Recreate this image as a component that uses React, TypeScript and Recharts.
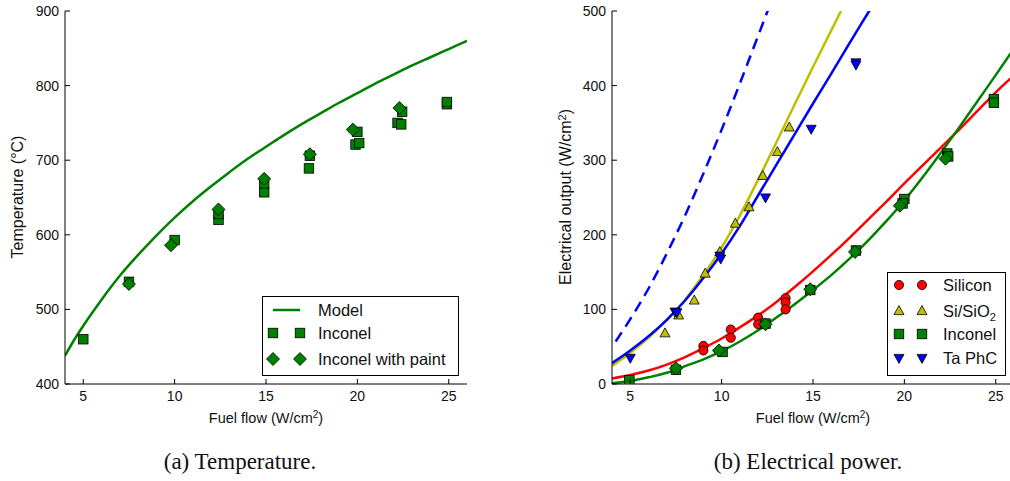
import React from 'react';
import { ComposedChart, Line, Scatter, XAxis, YAxis } from 'recharts';

// ---------- shared axis ticks ----------
const FLOW_TICKS = [5, 10, 15, 20, 25];
const TEMP_TICKS = [400, 500, 600, 700, 800, 900];
const POWER_TICKS = [0, 100, 200, 300, 400, 500];

// ---------- (a) Temperature ----------
const modelFlow = [4, 4.5, 5, 6, 7, 8, 9, 10, 11, 12, 13, 14, 15, 16, 17, 18, 19, 20, 21, 22, 23, 24, 25, 26];
const modelTemp = [438, 459, 478, 513, 545, 573, 599, 623, 645, 665, 684, 702, 718, 734, 749, 763, 777, 790, 803, 815, 827, 838, 849, 860];

const inconelFlowA = [5.0, 7.5, 10.0, 12.4, 12.4, 14.9, 14.9, 17.35, 17.4, 19.9, 20.1, 20.0, 22.2, 22.4, 22.45, 24.9, 24.9];
const inconelTempA = [460, 537, 593, 620, 628, 657, 669, 689, 706, 721, 723, 738, 750, 748, 765, 775, 778];

const paintFlowA = [7.5, 9.8, 12.4, 14.9, 17.4, 19.75, 22.3];
const paintTempA = [534, 586, 634, 675, 708, 741, 770];

// ---------- (b) Electrical power ----------
const fitFlow = [4, 5, 6, 7, 8, 9, 10, 11, 12, 13, 14, 15, 16, 17, 18, 19, 20, 21, 22, 23, 24, 25, 26];
const siliconFit = [7.5, 12, 18, 26, 36, 48, 61, 76, 92, 110, 130, 151, 173, 196, 220, 244, 269, 293, 317, 341, 366, 391, 414];
const inconelFit = [1, 4, 9, 15, 24, 33, 44, 57, 72, 89, 107, 126, 146, 168, 192, 218, 246, 277, 310, 344, 379, 414, 450];

const sio2FitFlow = [4, 5, 6, 7, 8, 9, 10, 11, 12, 13, 14, 15, 16, 17];
const sio2Fit = [24, 42, 62, 86, 113, 146, 183, 226, 274, 324, 375, 425, 474, 523];

const taFitFlow = [4, 5, 6, 7, 8, 9, 10, 11, 12, 13, 14, 15, 16, 17, 18, 19];
const taFit = [28, 45, 64, 86, 112, 142, 175, 212, 253, 294, 335, 376, 416, 457, 497, 537];

const taIdealFlow = [4.2, 5, 6, 7, 8, 9, 10, 11, 12, 13];
const taIdeal = [57, 87, 128, 175, 226, 282, 341, 403, 467, 531];

const siliconFlow = [9.0, 9.0, 10.5, 10.5, 12.0, 12.0, 13.5, 13.5, 13.5];
const siliconPower = [51, 45, 73, 62, 89, 80, 115, 109, 100];

const sio2Flow = [6.9, 7.65, 8.5, 9.1, 9.9, 10.75, 11.5, 12.25, 13.05, 13.7];
const sio2Power = [68, 92, 112, 148, 177, 215, 237, 279, 311, 344];

const inconelFlowB = [4.95, 7.5, 10.05, 12.4, 14.85, 17.35, 20.0, 19.9, 22.35, 22.4, 24.9, 24.9];
const inconelPowerB = [5, 19, 43, 81, 126, 179, 248, 242, 309, 305, 382, 377];

const paintFlowB = [7.5, 9.85, 12.4, 14.85, 17.3, 19.75, 22.25];
const paintPowerB = [21, 45, 80, 127, 177, 239, 302];

const taFlow = [5.0, 7.45, 7.55, 9.9, 9.95, 12.4, 14.9, 17.35, 17.35];
const taPower = [35, 97, 96, 172, 168, 250, 342, 431, 428];

// ---------- styling ----------
const GREEN = '#008000';
const RED = '#ff0000';
const YELLOW = '#bfbf00';
const BLUE = '#0000ff';
const SANS = '"Liberation Sans", Arial, Helvetica, sans-serif';
const SERIF = '"Liberation Serif", "DejaVu Serif", serif';
const TICK_FONT = 14;
const TICK_LEN = 5;

const pts = (xs: number[], ys: number[]) => xs.map((x, i) => ({ x, y: ys[i] }));

// ---------- markers ----------
type MarkerKind = 'square' | 'diamond' | 'circle' | 'up' | 'down';

function Marker({ kind, cx, cy, fill }: { kind: MarkerKind; cx: number; cy: number; fill: string }) {
  const stroke = '#000';
  const sw = 0.8;
  if (kind === 'square') {
    const s = 9.5;
    return <rect x={cx - s / 2} y={cy - s / 2} width={s} height={s} fill={fill} stroke={stroke} strokeWidth={sw} />;
  }
  if (kind === 'diamond') {
    const r = 6.5;
    return (
      <polygon
        points={`${cx},${cy - r} ${cx + r},${cy} ${cx},${cy + r} ${cx - r},${cy}`}
        fill={fill}
        stroke={stroke}
        strokeWidth={sw}
      />
    );
  }
  if (kind === 'circle') {
    return <circle cx={cx} cy={cy} r={4.6} fill={fill} stroke={stroke} strokeWidth={sw} />;
  }
  const w = 10;
  const h = 9;
  if (kind === 'up') {
    return (
      <polygon
        points={`${cx},${cy - h * 0.6} ${cx + w / 2},${cy + h * 0.4} ${cx - w / 2},${cy + h * 0.4}`}
        fill={fill}
        stroke={stroke}
        strokeWidth={sw}
      />
    );
  }
  return (
    <polygon
      points={`${cx},${cy + h * 0.6} ${cx + w / 2},${cy - h * 0.4} ${cx - w / 2},${cy - h * 0.4}`}
      fill={fill}
      stroke={stroke}
      strokeWidth={sw}
    />
  );
}

const shapeOf = (kind: MarkerKind, fill: string) => (p: any) => <Marker kind={kind} cx={p.cx} cy={p.cy} fill={fill} />;

// ---------- axis ticks (inward, matplotlib style) ----------
const BottomTick = (p: any) => (
  <g>
    <line x1={p.x} x2={p.x} y1={p.y} y2={p.y - TICK_LEN} stroke="#000" strokeWidth={1} />
    <text x={p.x} y={p.y + 17} textAnchor="middle" fontFamily={SANS} fontSize={TICK_FONT} fill="#111">
      {p.payload.value}
    </text>
  </g>
);
const TopTick = (p: any) => (
  <line x1={p.x} x2={p.x} y1={p.y} y2={p.y + TICK_LEN} stroke="#000" strokeWidth={1} />
);
const LeftTick = (p: any) => (
  <g>
    <line x1={p.x} x2={p.x + TICK_LEN} y1={p.y} y2={p.y} stroke="#000" strokeWidth={1} />
    <text x={p.x - 6} y={p.y + 5} textAnchor="end" fontFamily={SANS} fontSize={TICK_FONT} fill="#111">
      {p.payload.value}
    </text>
  </g>
);
const RightTick = (p: any) => (
  <line x1={p.x} x2={p.x - TICK_LEN} y1={p.y} y2={p.y} stroke="#000" strokeWidth={1} />
);

const CHART_W = 480;
const CHART_H = 430;
const MARGIN = { top: 11, right: 13, bottom: 0, left: 0 };

// Bottom/left axes carry labels; top/right axes only close the frame with inward ticks.
function axes(yDomain: [number, number], yTicks: number[]) {
  return [
    <XAxis
      key="xb"
      type="number"
      dataKey="x"
      domain={[4, 26]}
      ticks={FLOW_TICKS}
      interval={0}
      allowDataOverflow
      height={46}
      tickSize={0}
      tickMargin={0}
      tickLine={false}
      axisLine={{ stroke: '#000', strokeWidth: 1 }}
      tick={BottomTick}
    />,
    <XAxis
      key="xt"
      xAxisId="top"
      orientation="top"
      type="number"
      dataKey="x"
      domain={[4, 26]}
      ticks={FLOW_TICKS}
      interval={0}
      allowDataOverflow
      height={0}
      tickSize={0}
      tickMargin={0}
      tickLine={false}
      axisLine={{ stroke: '#000', strokeWidth: 1 }}
      tick={TopTick}
    />,
    <YAxis
      key="yl"
      type="number"
      dataKey="y"
      domain={yDomain}
      ticks={yTicks}
      interval={0}
      allowDataOverflow
      width={65}
      tickSize={0}
      tickMargin={0}
      tickLine={false}
      axisLine={{ stroke: '#000', strokeWidth: 1 }}
      tick={LeftTick}
    />,
    <YAxis
      key="yr"
      yAxisId="right"
      orientation="right"
      type="number"
      dataKey="y"
      domain={yDomain}
      ticks={yTicks}
      interval={0}
      allowDataOverflow
      width={0}
      tickSize={0}
      tickMargin={0}
      tickLine={false}
      axisLine={{ stroke: '#000', strokeWidth: 1 }}
      tick={RightTick}
    />,
  ];
}

function TemperatureChart() {
  return (
    <ComposedChart width={CHART_W} height={CHART_H} margin={MARGIN}>
      {axes([400, 900], TEMP_TICKS)}
      <Line
        data={pts(modelFlow, modelTemp)}
        dataKey="y"
        type="monotone"
        stroke={GREEN}
        strokeWidth={2.5}
        dot={false}
        activeDot={false}
        isAnimationActive={false}
      />
      <Scatter data={pts(inconelFlowA, inconelTempA)} shape={shapeOf('square', GREEN)} isAnimationActive={false} />
      <Scatter data={pts(paintFlowA, paintTempA)} shape={shapeOf('diamond', GREEN)} isAnimationActive={false} />
    </ComposedChart>
  );
}

function PowerChart() {
  const fit = (xs: number[], ys: number[], color: string, dash?: string) => (
    <Line
      data={pts(xs, ys)}
      dataKey="y"
      type="monotone"
      stroke={color}
      strokeWidth={2.5}
      strokeDasharray={dash}
      dot={false}
      activeDot={false}
      isAnimationActive={false}
    />
  );
  return (
    <ComposedChart width={CHART_W} height={CHART_H} margin={MARGIN}>
      {axes([0, 500], POWER_TICKS)}
      {fit(taIdealFlow, taIdeal, BLUE, '11 7')}
      {fit(sio2FitFlow, sio2Fit, YELLOW)}
      {fit(taFitFlow, taFit, BLUE)}
      {fit(fitFlow, siliconFit, RED)}
      {fit(fitFlow, inconelFit, GREEN)}
      <Scatter data={pts(siliconFlow, siliconPower)} shape={shapeOf('circle', RED)} isAnimationActive={false} />
      <Scatter data={pts(sio2Flow, sio2Power)} shape={shapeOf('up', YELLOW)} isAnimationActive={false} />
      <Scatter data={pts(inconelFlowB, inconelPowerB)} shape={shapeOf('square', GREEN)} isAnimationActive={false} />
      <Scatter data={pts(paintFlowB, paintPowerB)} shape={shapeOf('diamond', GREEN)} isAnimationActive={false} />
      <Scatter data={pts(taFlow, taPower)} shape={shapeOf('down', BLUE)} isAnimationActive={false} />
    </ComposedChart>
  );
}

// ---------- legends, axis titles and captions ----------
type LegendRow = { label: React.ReactNode; kind: MarkerKind | 'line'; color: string; y: number };

function LegendBox({ x, y, w, h, rows, mx1, mx2, tx }: { x: number; y: number; w: number; h: number; rows: LegendRow[]; mx1: number; mx2: number; tx: number }) {
  return (
    <g>
      <rect x={x + 0.5} y={y + 0.5} width={w} height={h} fill="#fff" stroke="#000" strokeWidth={1} />
      {rows.map((r, i) => (
        <g key={i}>
          {r.kind === 'line' ? (
            <line x1={x + mx1} x2={x + mx2} y1={y + r.y} y2={y + r.y} stroke={r.color} strokeWidth={2.5} />
          ) : (
            <>
              <Marker kind={r.kind} cx={x + mx1} cy={y + r.y} fill={r.color} />
              <Marker kind={r.kind} cx={x + mx2} cy={y + r.y} fill={r.color} />
            </>
          )}
          <text x={x + tx} y={y + r.y + 6} fontFamily={SANS} fontSize={16.5} fill="#111">
            {r.label}
          </text>
        </g>
      ))}
    </g>
  );
}

const flowTitle = (
  <>
    Fuel flow (W/cm<tspan dy={-5} fontSize={10}>2</tspan>
    <tspan dy={5}>)</tspan>
  </>
);

function Overlay() {
  return (
    <svg width={1010} height={481} style={{ position: 'absolute', left: 0, top: 0 }}>
      <LegendBox
        x={262}
        y={296}
        w={196}
        h={79}
        mx1={11}
        mx2={38}
        tx={56}
        rows={[
          { label: 'Model', kind: 'line', color: GREEN, y: 14 },
          { label: 'Inconel', kind: 'square', color: GREEN, y: 37 },
          { label: 'Inconel with paint', kind: 'diamond', color: GREEN, y: 63 },
        ]}
      />
      <LegendBox
        x={887}
        y={272}
        w={118}
        h={103}
        mx1={12}
        mx2={35}
        tx={56}
        rows={[
          { label: 'Silicon', kind: 'circle', color: RED, y: 13 },
          {
            label: (
              <>
                Si/SiO<tspan dy={4} fontSize={11}>2</tspan>
              </>
            ),
            kind: 'up',
            color: YELLOW,
            y: 39,
          },
          { label: 'Inconel', kind: 'square', color: GREEN, y: 62 },
          { label: 'Ta PhC', kind: 'down', color: BLUE, y: 86 },
        ]}
      />

      <text x={266} y={423} textAnchor="middle" fontFamily={SANS} fontSize={14.5} fill="#111">
        {flowTitle}
      </text>
      <text x={813} y={423} textAnchor="middle" fontFamily={SANS} fontSize={14.5} fill="#111">
        {flowTitle}
      </text>

      <text transform="translate(23,197) rotate(-90)" textAnchor="middle" fontFamily={SANS} fontSize={16} fill="#111">
        Temperature (°C)
      </text>
      <text transform="translate(571,197) rotate(-90)" textAnchor="middle" fontFamily={SANS} fontSize={16} fill="#111">
        Electrical output (W/cm<tspan dy={-5} fontSize={11}>2</tspan>
        <tspan dy={5}>)</tspan>
      </text>

      <text x={240} y={469} textAnchor="middle" fontFamily={SERIF} fontSize={23} fill="#111">
        (a) Temperature.
      </text>
      <text x={808} y={469} textAnchor="middle" fontFamily={SERIF} fontSize={23} fill="#111">
        (b) Electrical power.
      </text>
    </svg>
  );
}

export default function App() {
  return (
    <div
      style={{
        position: 'fixed',
        left: 0,
        top: 0,
        width: 1010,
        height: 481,
        overflow: 'hidden',
        background: '#fff',
      }}
    >
      <div style={{ position: 'absolute', left: 0, top: 0 }}>
        <TemperatureChart />
      </div>
      <div style={{ position: 'absolute', left: 547, top: 0 }}>
        <PowerChart />
      </div>
      <Overlay />
    </div>
  );
}
